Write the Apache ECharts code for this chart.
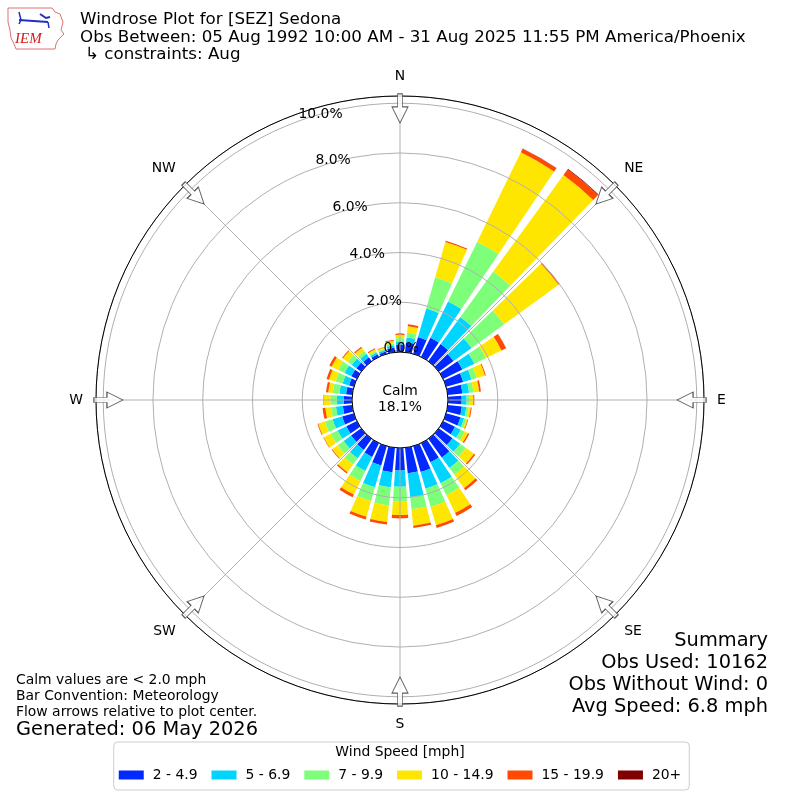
<!DOCTYPE html>
<html>
<head>
<meta charset="utf-8">
<script src="https://cdn.jsdelivr.net/npm/echarts@6/dist/echarts.min.js"></script>
<style>
html,body{margin:0;padding:0;background:#fff;}
#chart{width:800px;height:800px;}
</style>
</head>
<body>
<div id="chart"></div>
<script>
// Direction categories (degrees, meteorological)
const directions = ['0','10','20','30','40','50','60','70','80','90','100','110','120','130','140','150','160','170','180','190','200','210','220','230','240','250','260','270','280','290','300','310','320','330','340','350'];
// Frequencies (%) per speed bin per direction
const bin2to5   = [0.30,0.40,0.70,0.86,0.85,0.73,0.86,0.71,0.59,0.55,0.57,0.60,0.53,0.68,0.93,0.86,1.08,1.03,0.90,0.99,0.81,0.62,0.55,0.50,0.47,0.49,0.38,0.33,0.25,0.20,0.25,0.24,0.20,0.12,0.10,0.18];
const bin5to7   = [0.13,0.20,1.20,1.62,1.35,0.90,0.54,0.35,0.27,0.20,0.18,0.15,0.26,0.38,0.52,0.93,0.70,0.97,0.66,0.61,0.91,0.63,0.42,0.37,0.39,0.40,0.28,0.28,0.27,0.27,0.30,0.23,0.17,0.08,0.07,0.10];
const bin7to10  = [0.13,0.20,1.30,2.67,2.25,1.62,0.52,0.22,0.18,0.13,0.10,0.10,0.18,0.29,0.34,0.54,0.76,0.49,0.60,0.73,0.57,0.45,0.31,0.30,0.31,0.32,0.20,0.26,0.27,0.29,0.28,0.20,0.13,0.06,0.05,0.08];
const bin10to15 = [0.13,0.25,1.48,4.00,4.80,2.70,0.69,0.34,0.23,0.14,0.08,0.05,0.14,0.40,0.66,0.79,0.77,0.66,0.53,0.67,0.66,0.60,0.38,0.27,0.31,0.28,0.23,0.26,0.18,0.28,0.30,0.24,0.17,0.08,0.06,0.10];
const bin15to20 = [0.04,0.08,0.05,0.16,0.28,0.05,0.20,0.04,0.07,0.04,0.04,0.03,0.06,0.06,0.10,0.14,0.11,0.09,0.14,0.10,0.12,0.12,0.06,0.03,0.02,0.03,0.11,0.02,0.09,0.10,0.10,0.04,0.05,0.04,0.02,0.04];
const bin20plus = [0,0,0,0.01,0.03,0,0.01,0,0,0,0,0,0,0,0,0,0,0,0,0,0,0,0,0,0,0,0,0,0,0,0,0,0,0,0,0];
const binNames = ['2 - 4.9','5 - 6.9','7 - 9.9','10 - 14.9','15 - 19.9','20+'];
const binColors = ['#0028ff','#00d4ff','#7dff7a','#ffe600','#ff4a00','#800000'];
const radialTicks = [0,2,4,6,8,10];
const compassNames = ['N','NE','E','SE','S','SW','W','NW'];
const compassAngles = [0,45,90,135,180,225,270,315];
const calmPct = '18.1%';
const titleLines = ['Windrose Plot for [SEZ] Sedona','Obs Between: 05 Aug 1992 10:00 AM - 31 Aug 2025 11:55 PM America/Phoenix','\u21b3 constraints: Aug'];
const notesLeft = ['Calm values are < 2.0 mph','Bar Convention: Meteorology','Flow arrows relative to plot center.'];
const generated = 'Generated: 06 May 2026';
const summaryLines = ['Summary','Obs Used: 10162','Obs Without Wind: 0','Avg Speed: 6.8 mph'];

const FONT = "'DejaVu Sans', sans-serif";
const FS_SMALL = 13.9, FS_TITLE = 16.7, FS_BIG = 19.4;
const RMAX = 10.29;
const bins = [bin2to5,bin5to7,bin7to10,bin10to15,bin15to20,bin20plus];

const chart = echarts.init(document.getElementById('chart'));

const barSeries = bins.map((d,i)=>({
  type:'bar', name:binNames[i], coordinateSystem:'polar', polarIndex:0,
  stack:'wind', data:d, barCategoryGap:'20%',
  itemStyle:{color:binColors[i]}, color:binColors[i], z:2,
  emphasis:{disabled:true}
}));

const arrowPath = 'path://M5.5,0 L10.5,0 L10.5,13 L16,13 L8,29 L0,13 L5.5,13 Z';
const arrowSeries = {
  type:'scatter', coordinateSystem:'polar', polarIndex:1, z:8,
  symbol: arrowPath, symbolSize:[16,29],
  symbolRotate: (v)=> -v[1],
  itemStyle:{color:'#ffffff', borderColor:'#333333', borderWidth:1},
  data: compassAngles.map(a=>[9.79, a]),
  silent:true
};

const graphics = [];
titleLines.forEach((t,i)=>{
  graphics.push({type:'text', x: i===2?85:80, y:20+i*17.5, style:{text:t, font:FS_TITLE+'px '+FONT, fill:'#000', textVerticalAlign:'middle'}});
});
notesLeft.forEach((t,i)=>{
  graphics.push({type:'text', x:16, y:680+i*16.3, style:{text:t, font:FS_SMALL+'px '+FONT, fill:'#000', textVerticalAlign:'middle'}});
});
graphics.push({type:'text', x:16, y:730, style:{text:generated, font:FS_BIG+'px '+FONT, fill:'#000', textVerticalAlign:'middle'}});
summaryLines.forEach((t,i)=>{
  graphics.push({type:'text', x:768, y:641+i*22, style:{text:t, font:FS_BIG+'px '+FONT, fill:'#000', textAlign:'right', textVerticalAlign:'middle'}});
});
graphics.push({type:'text', x:400, y:399.5, z:10, style:{text:'Calm\n'+calmPct, font:FS_SMALL+'px '+FONT, fill:'#000', textAlign:'center', textVerticalAlign:'middle', lineHeight:15.6}});
graphics.push({type:'text', x:400, y:752, z:10, style:{text:'Wind Speed [mph]', font:FS_SMALL+'px '+FONT, fill:'#000', textAlign:'center', textVerticalAlign:'middle'}});
// IEM logo (approximation)
graphics.push({type:'polyline', shape:{points:[[8,8],[52,8],[55,12],[60,14],[63,22],[61,30],[64,34],[58,40],[56,44],[55,49],[16,49],[14,44],[11,38],[10,30],[8,22],[8,8]]}, style:{stroke:'#e07070', fill:'none', lineWidth:1}});
graphics.push({type:'polyline', shape:{points:[[19,20],[48,22]]}, style:{stroke:'#2030c0', lineWidth:2}});
graphics.push({type:'polyline', shape:{points:[[19,12],[21,20],[19,24]]}, style:{stroke:'#2030c0', lineWidth:1.5, fill:'none'}});
graphics.push({type:'polyline', shape:{points:[[40,14],[46,18],[50,17]]}, style:{stroke:'#2030c0', lineWidth:2, fill:'none'}});
graphics.push({type:'polyline', shape:{points:[[48,22],[49,28]]}, style:{stroke:'#2030c0', lineWidth:1.5}});
graphics.push({type:'text', x:15, y:39, style:{text:'IEM', font:'italic 15px "Liberation Serif", serif', fill:'#d02020', textVerticalAlign:'middle'}});

const option = {
  backgroundColor:'#ffffff',
  animation:false,
  textStyle:{fontFamily:FONT},
  polar:[
    {center:[400,400], radius:[48,304]},
    {center:[400,400], radius:[48,304]},
    {center:[400,400], radius:[48,304]}
  ],
  angleAxis:[
    {polarIndex:0, type:'category', data:directions, startAngle:95, clockwise:true,
     axisLine:{show:false}, axisTick:{show:false}, axisLabel:{show:false}, splitLine:{show:false}},
    {polarIndex:1, type:'value', min:0, max:360, interval:45, startAngle:90, clockwise:true, z:4,
     axisLine:{show:false}, axisTick:{show:false},
     axisLabel:{show:true, margin:13, fontSize:FS_SMALL, color:'#000', fontFamily:FONT,
       formatter:(v)=>{ const i = compassAngles.indexOf(Math.round(v)); return i>=0 ? compassNames[i] : ''; }},
     splitLine:{show:true, lineStyle:{color:'#b0b0b0', width:1}}},
    {polarIndex:2, type:'value', min:0, max:360, startAngle:110, clockwise:true, z:5,
     axisLine:{show:true, lineStyle:{color:'#000', width:1}}, axisTick:{show:false}, axisLabel:{show:false}, splitLine:{show:false}}
  ],
  radiusAxis:[
    {polarIndex:0, min:0, max:RMAX, axisLine:{show:false}, axisTick:{show:false}, axisLabel:{show:false}, splitLine:{show:false}},
    {polarIndex:1, min:0, max:RMAX, interval:2, z:4, axisLine:{show:false}, axisTick:{show:false}, axisLabel:{show:false},
     splitLine:{show:true, lineStyle:{color:'#b0b0b0', width:1}}},
    {polarIndex:2, min:0, max:RMAX, interval:2, z:6, axisLine:{show:false}, axisTick:{show:false}, splitLine:{show:false},
     axisLabel:{show:true, margin:0, align:'left', verticalAlign:'bottom', fontSize:FS_SMALL, color:'#000', fontFamily:FONT, showMaxLabel:false,
       formatter:(v)=> radialTicks.indexOf(Math.round(v*100)/100)>=0 ? v.toFixed(1)+'%' : ''}}
  ],
  legend:{
    data:binNames, left:'center', top:742, orient:'horizontal',
    icon:'rect', itemWidth:25, itemHeight:9, itemGap:14,
    padding:[26,8,8,5], borderColor:'#cccccc', borderWidth:1, borderRadius:4,
    textStyle:{fontSize:FS_SMALL, color:'#000', fontFamily:FONT, padding:[0,0,0,4]},
    selectedMode:false
  },
  series:[...barSeries, arrowSeries],
  graphic:graphics
};
chart.setOption(option);
</script>
</body>
</html>
